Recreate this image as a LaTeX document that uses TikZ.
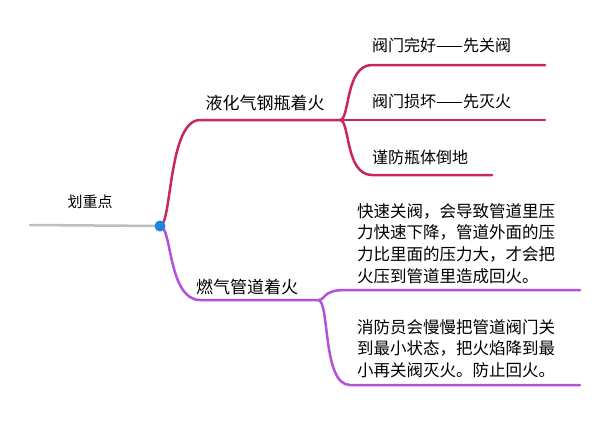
\documentclass[tikz,border=0pt]{standalone}
\usepackage{fontspec}
\setmainfont{Noto Sans CJK SC}
\definecolor{cred}{RGB}{200,40,90}
\definecolor{cpur}{RGB}{180,80,220}
\definecolor{cgry}{RGB}{190,190,190}
\definecolor{cblu}{RGB}{30,130,230}
\begin{document}
\begin{tikzpicture}[x=1pt,y=-1pt,
  red/.style={draw=cred,line width=2.5pt,line cap=round},
  pur/.style={draw=cpur,line width=2.5pt,line cap=round},
  lbl/.style={font=\fontsize{16}{19}\selectfont,inner sep=0pt},
  para/.style={font=\fontsize{16.5}{21.7}\selectfont,align=left,inner sep=0pt,anchor=north west}]
\useasboundingbox (0,0) rectangle (611,426);
\coordinate (s) at (30,225);
\coordinate (d) at (160,226);
\draw[line width=2.5pt,draw=cgry,line cap=round] (s) -- (d);
\node[lbl,font=\fontsize{15}{18}\selectfont] (root) at (90,202) {划重点};
% branch 1
\coordinate (b1) at (340,120);
\draw[red] (d) .. controls (172,226) and (168,120) .. (200,120) -- (b1);
\node[lbl,font=\fontsize{17}{20}\selectfont] (t1) at (265,103) {液化气钢瓶着火};
\coordinate (e1) at (545,65);
\coordinate (e2) at (545,120);
\coordinate (e3) at (492,175);
\draw[red] (b1) .. controls (350,120) and (345,65) .. (372,65) -- (e1);
\draw[red] (b1) -- (e2);
\draw[red] (b1) .. controls (350,120) and (345,175) .. (372,175) -- (e3);
\node[lbl,anchor=west] (l1) at (372,45) {阀门完好——先关阀};
\node[lbl,anchor=west] (l2) at (372,101) {阀门损坏——先灭火};
\node[lbl,anchor=west] (l3) at (372,157) {谨防瓶体倒地};
% branch 2
\coordinate (b2) at (318,300);
\draw[pur] (d) .. controls (172,226) and (168,300) .. (200,300) -- (b2);
\node[lbl,font=\fontsize{17}{20}\selectfont] (t2) at (247,287) {燃气管道着火};
\coordinate (f1) at (580,290);
\coordinate (f2) at (580,385);
\draw[pur] (b2) .. controls (326,300) and (322,290) .. (345,290) -- (f1);
\draw[pur] (b2) .. controls (330,300) and (322,385) .. (350,385) -- (f2);
\node[para] (p1) at (357,203) {快速关阀，会导致管道里压\\力快速下降，管道外面的压\\力比里面的压力大，才会把\\火压到管道里造成回火。};
\node[para] (p2) at (357,319) {消防员会慢慢把管道阀门关\\到最小状态，把火焰降到最\\小再关阀灭火。防止回火。};
\fill[cblu] (d) circle (5.5pt);
\end{tikzpicture}
\end{document}
